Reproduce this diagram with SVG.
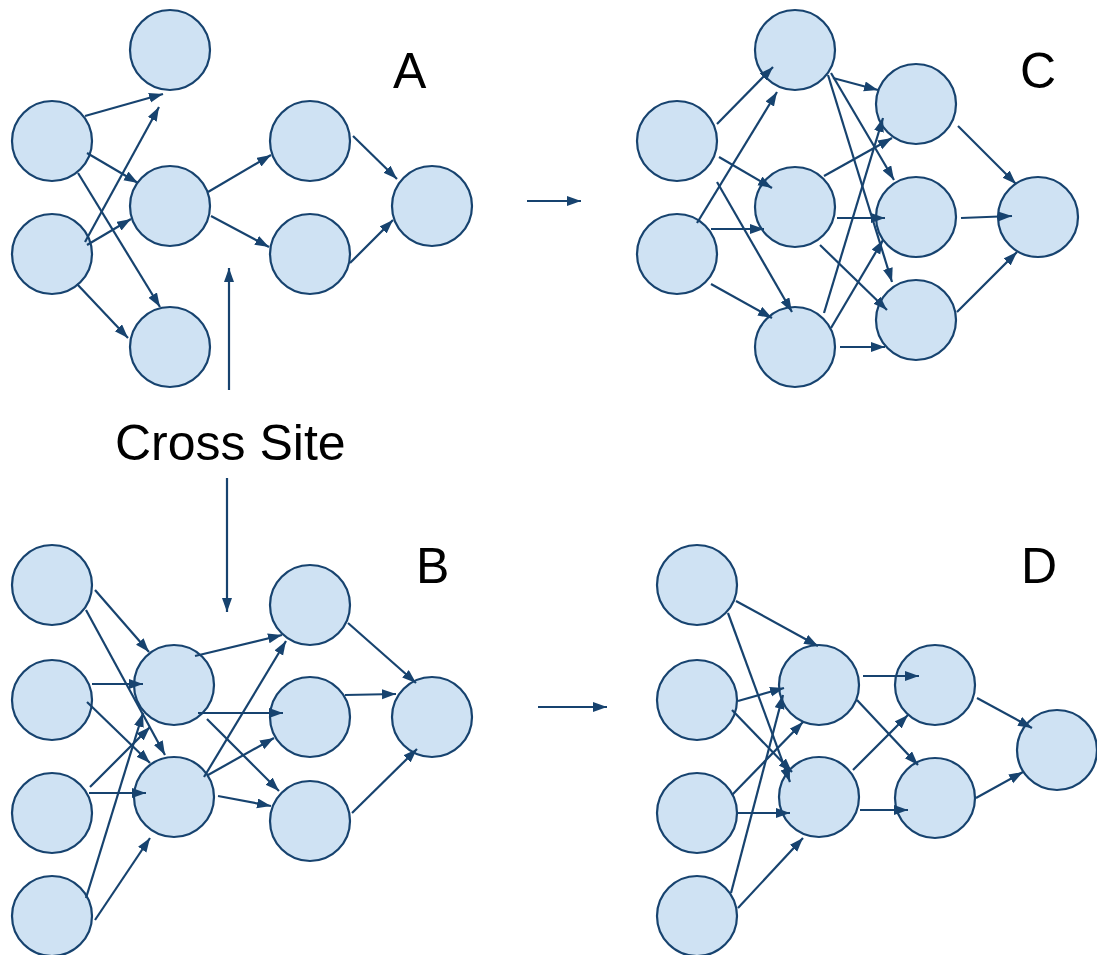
<svg xmlns="http://www.w3.org/2000/svg" width="1097" height="955" viewBox="0 0 1097 955">
<defs>
<marker id="ah" markerUnits="userSpaceOnUse" markerWidth="15" markerHeight="11" refX="14" refY="5" orient="auto">
<path d="M0,0 L14,5 L0,10 z" fill="#17436f"/>
</marker>
<style>
.n{fill:#cfe2f3;stroke:#17436f;stroke-width:2.2}
.e{stroke:#17436f;stroke-width:2.2;fill:none;marker-end:url(#ah)}
.t{font-family:"Liberation Sans",Arial,sans-serif;fill:#000}
</style>
</defs>
<rect width="1097" height="955" fill="#fff"/>
<g id="nodes">
<g id="A"><circle class="n" cx="170" cy="50" r="40"/><circle class="n" cx="52" cy="141" r="40"/><circle class="n" cx="52" cy="254" r="40"/><circle class="n" cx="170" cy="206" r="40"/><circle class="n" cx="170" cy="347" r="40"/><circle class="n" cx="310" cy="141" r="40"/><circle class="n" cx="310" cy="254" r="40"/><circle class="n" cx="432" cy="206" r="40"/></g>
<g id="C"><circle class="n" cx="677" cy="141" r="40"/><circle class="n" cx="677" cy="254" r="40"/><circle class="n" cx="795" cy="50" r="40"/><circle class="n" cx="795" cy="207" r="40"/><circle class="n" cx="795" cy="347" r="40"/><circle class="n" cx="916" cy="104" r="40"/><circle class="n" cx="916" cy="217" r="40"/><circle class="n" cx="916" cy="320" r="40"/><circle class="n" cx="1038" cy="217" r="40"/></g>
<g id="B"><circle class="n" cx="52" cy="585" r="40"/><circle class="n" cx="52" cy="700" r="40"/><circle class="n" cx="52" cy="813" r="40"/><circle class="n" cx="52" cy="916" r="40"/><circle class="n" cx="174" cy="685" r="40"/><circle class="n" cx="174" cy="797" r="40"/><circle class="n" cx="310" cy="605" r="40"/><circle class="n" cx="310" cy="717" r="40"/><circle class="n" cx="310" cy="821" r="40"/><circle class="n" cx="432" cy="717" r="40"/></g>
<g id="D"><circle class="n" cx="697" cy="585" r="40"/><circle class="n" cx="697" cy="700" r="40"/><circle class="n" cx="697" cy="813" r="40"/><circle class="n" cx="697" cy="916" r="40"/><circle class="n" cx="819" cy="685" r="40"/><circle class="n" cx="819" cy="797" r="40"/><circle class="n" cx="935" cy="685" r="40"/><circle class="n" cx="935" cy="798" r="40"/><circle class="n" cx="1057" cy="750" r="40"/></g>
</g>
<g id="connectors">
<line class="e" x1="85" y1="116" x2="163" y2="94"/>
<line class="e" x1="85" y1="242" x2="159" y2="107"/>
<line class="e" x1="87" y1="153" x2="138" y2="183"/>
<line class="e" x1="87" y1="245" x2="131" y2="219"/>
<line class="e" x1="78" y1="173" x2="160" y2="307"/>
<line class="e" x1="77" y1="284" x2="128" y2="338"/>
<line class="e" x1="208" y1="192" x2="271" y2="155"/>
<line class="e" x1="211" y1="216" x2="269" y2="247"/>
<line class="e" x1="353" y1="136" x2="397" y2="179"/>
<line class="e" x1="350" y1="263" x2="393" y2="220"/>
<line class="e" x1="229" y1="390" x2="229" y2="268"/>
<line class="e" x1="227" y1="478" x2="227" y2="612"/>
<line class="e" x1="527" y1="201" x2="581" y2="201"/>
<line class="e" x1="538" y1="707" x2="607" y2="707"/>
<line class="e" x1="717" y1="124" x2="773" y2="67"/>
<line class="e" x1="697" y1="223" x2="777" y2="92"/>
<line class="e" x1="719" y1="157" x2="772" y2="188"/>
<line class="e" x1="711" y1="229" x2="764" y2="229"/>
<line class="e" x1="717" y1="182" x2="792" y2="312"/>
<line class="e" x1="711" y1="284" x2="772" y2="318"/>
<line class="e" x1="833" y1="78" x2="878" y2="90"/>
<line class="e" x1="831" y1="73" x2="894" y2="180"/>
<line class="e" x1="828" y1="75" x2="892" y2="282"/>
<line class="e" x1="824" y1="176" x2="892" y2="138"/>
<line class="e" x1="837" y1="218" x2="885" y2="218"/>
<line class="e" x1="820" y1="245" x2="887" y2="310"/>
<line class="e" x1="824" y1="313" x2="883" y2="118"/>
<line class="e" x1="831" y1="328" x2="883" y2="240"/>
<line class="e" x1="840" y1="347" x2="885" y2="347"/>
<line class="e" x1="958" y1="126" x2="1016" y2="184"/>
<line class="e" x1="961" y1="218" x2="1012" y2="216"/>
<line class="e" x1="957" y1="312" x2="1017" y2="252"/>
<line class="e" x1="95" y1="590" x2="149" y2="652"/>
<line class="e" x1="86" y1="610" x2="165" y2="755"/>
<line class="e" x1="92" y1="684" x2="143" y2="684"/>
<line class="e" x1="87" y1="702" x2="150" y2="763"/>
<line class="e" x1="90" y1="787" x2="150" y2="727"/>
<line class="e" x1="89" y1="793" x2="146" y2="793"/>
<line class="e" x1="86" y1="898" x2="143" y2="713"/>
<line class="e" x1="95" y1="920" x2="150" y2="838"/>
<line class="e" x1="195" y1="656" x2="282" y2="635"/>
<line class="e" x1="198" y1="713" x2="283" y2="713"/>
<line class="e" x1="207" y1="719" x2="279" y2="791"/>
<line class="e" x1="204" y1="777" x2="286" y2="641"/>
<line class="e" x1="208" y1="775" x2="274" y2="738"/>
<line class="e" x1="218" y1="796" x2="271" y2="806"/>
<line class="e" x1="348" y1="623" x2="416" y2="683"/>
<line class="e" x1="345" y1="695" x2="396" y2="694"/>
<line class="e" x1="352" y1="813" x2="417" y2="749"/>
<line class="e" x1="736" y1="601" x2="818" y2="646"/>
<line class="e" x1="728" y1="613" x2="790" y2="782"/>
<line class="e" x1="738" y1="701" x2="784" y2="688"/>
<line class="e" x1="732" y1="710" x2="792" y2="772"/>
<line class="e" x1="732" y1="795" x2="803" y2="722"/>
<line class="e" x1="738" y1="813" x2="790" y2="813"/>
<line class="e" x1="731" y1="893" x2="783" y2="695"/>
<line class="e" x1="738" y1="908" x2="803" y2="838"/>
<line class="e" x1="863" y1="676" x2="919" y2="676"/>
<line class="e" x1="857" y1="700" x2="918" y2="765"/>
<line class="e" x1="853" y1="770" x2="908" y2="715"/>
<line class="e" x1="860" y1="810" x2="908" y2="810"/>
<line class="e" x1="977" y1="698" x2="1032" y2="728"/>
<line class="e" x1="976" y1="798" x2="1023" y2="772"/>
</g>
<g id="labels">
<text class="t" x="393" y="88" font-size="50">A</text>
<text class="t" x="1020" y="88" font-size="50">C</text>
<text class="t" x="416" y="583" font-size="50">B</text>
<text class="t" x="1021" y="583" font-size="50">D</text>
<text class="t" x="115" y="460" font-size="50">Cross Site</text>
</g>
</svg>
